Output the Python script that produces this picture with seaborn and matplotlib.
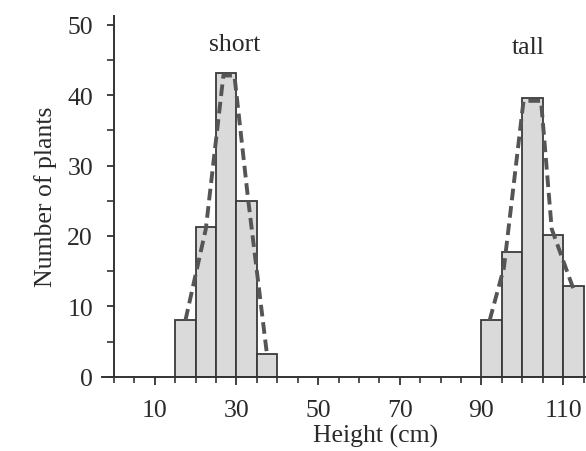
import numpy as np
import pandas as pd
import matplotlib
matplotlib.use("Agg")
import matplotlib.pyplot as plt
from matplotlib.ticker import MultipleLocator, FixedLocator
import seaborn as sns

# ---- data ----
short_bins = [15, 20, 25, 30, 35, 40]
short_counts = [8, 21.3, 43.2, 25, 3.2]
tall_bins = [90, 95, 100, 105, 110, 115]
tall_counts = [8, 17.7, 39.6, 20.2, 12.9]

short_curve_x = [17.5, 22.5, 26.8, 29.5, 32.8, 37.4]
short_curve_y = [8, 21.0, 42.8, 42.8, 25.5, 3.5]
tall_curve_x = [92.0, 95.5, 100.3, 104.6, 107.2, 112.5]
tall_curve_y = [8, 15.5, 39.2, 39.2, 21.0, 12.5]

xtick_labels = [10, 30, 50, 70, 90, 110]
ytick_labels = [0, 10, 20, 30, 40, 50]
group_labels = ["short", "tall"]
group_label_x = [29.6, 101.5]
group_label_y = [47.3, 46.9]

sns.set_theme(style="white")
plt.rcParams['font.family'] = ['Liberation Serif', 'DejaVu Serif']
FS = 18.5
TXT = "#2a2a2a"

fig = plt.figure(figsize=(5.86, 4.52), dpi=100)
ax = fig.add_axes([101.7 / 586, 74.3 / 452, 1 - 101.7 / 586, 361 / 452])

bar_face = "#dadada"
bar_edge = "#3a3a3a"
for bins, counts in [(short_bins, short_counts), (tall_bins, tall_counts)]:
    centers = [(a + b) / 2 for a, b in zip(bins[:-1], bins[1:])]
    sns.histplot(x=centers, weights=counts, bins=bins, ax=ax,
                 color=bar_face, edgecolor=bar_edge, linewidth=1.3, alpha=1)

for cx, cy in [(short_curve_x, short_curve_y), (tall_curve_x, tall_curve_y)]:
    sns.lineplot(x=cx, y=cy, ax=ax, color="#555555", linewidth=2.8,
                 linestyle=(0, (3.0, 1.5)), sort=False, estimator=None)

for lbl, lx, ly in zip(group_labels, group_label_x, group_label_y):
    ax.text(lx, ly, lbl, ha="center", va="center", fontsize=FS, color=TXT)

ax.set_xlim(-3, 115.6)
ax.set_ylim(0, 51.3)
ax.spines['left'].set_position(('data', 0))
ax.spines['top'].set_visible(False)
ax.spines['right'].set_visible(False)
for s in ['left', 'bottom']:
    ax.spines[s].set_color("#333333")
    ax.spines[s].set_linewidth(1.4)

ax.xaxis.set_major_locator(FixedLocator(xtick_labels))
ax.xaxis.set_minor_locator(MultipleLocator(5))
ax.yaxis.set_major_locator(FixedLocator(ytick_labels))
ax.yaxis.set_minor_locator(MultipleLocator(5))
ax.tick_params(axis='x', which='major', direction='out', length=6, width=1.3,
               color="#333333", labelsize=FS, pad=10, labelcolor=TXT, bottom=True)
ax.tick_params(axis='x', which='minor', direction='out', length=4, width=1.2,
               color="#333333", bottom=True)
ax.tick_params(axis='y', which='major', direction='out', length=5, width=1.3,
               color="#333333", labelsize=FS, pad=10, labelcolor=TXT, left=True)
ax.tick_params(axis='y', which='minor', direction='out', length=5, width=1.2,
               color="#333333", left=True)

ax.set_xlabel("Height (cm)", fontsize=FS, color=TXT)
ax.set_ylabel("Number of plants", fontsize=FS, color=TXT)
ax.xaxis.set_label_coords(0.566, -0.132)
ax.yaxis.set_label_coords(-0.092, 0.5)
ax.grid(False)

fig.savefig("out.png", dpi=100)
